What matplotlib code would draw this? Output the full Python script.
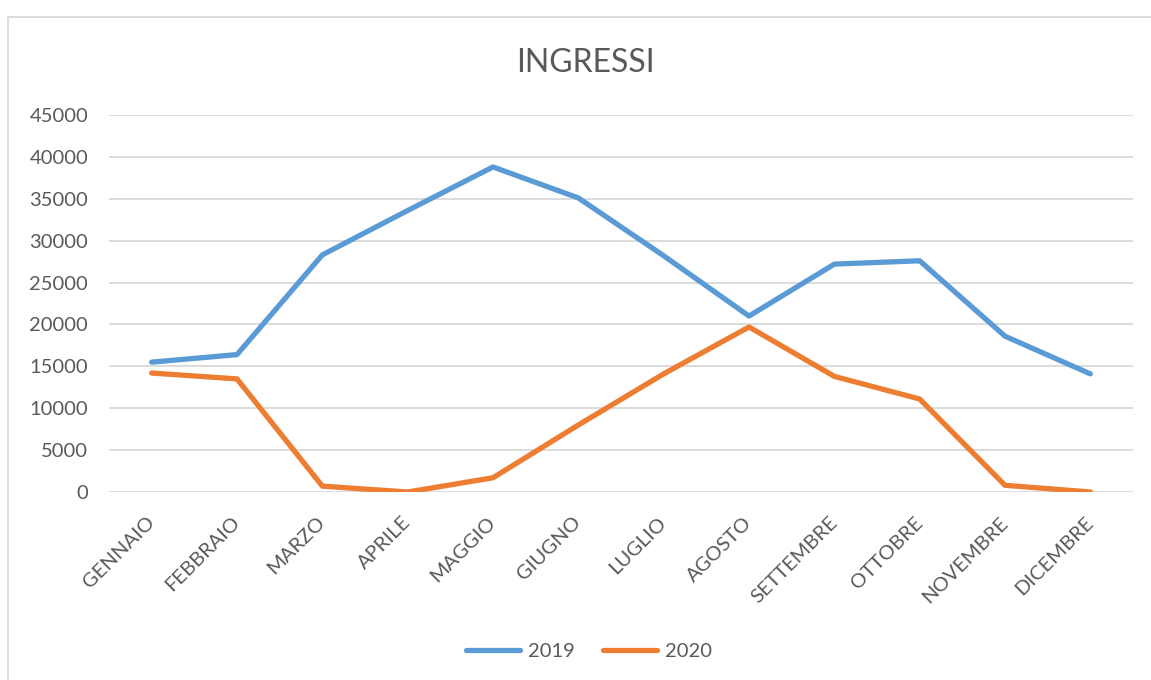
import numpy as np
import matplotlib
matplotlib.use("Agg")
import matplotlib.pyplot as plt
from matplotlib.patches import Rectangle

matplotlib.rcParams['font.family'] = ['Lato', 'DejaVu Sans']

mesi = ["GENNAIO", "FEBBRAIO", "MARZO", "APRILE", "MAGGIO", "GIUGNO",
        "LUGLIO", "AGOSTO", "SETTEMBRE", "OTTOBRE", "NOVEMBRE", "DICEMBRE"]
ingressi_2019 = [15500, 16400, 28300, 33600, 38800, 35100,
                 28200, 21000, 27200, 27600, 18600, 14100]
ingressi_2020 = [14200, 13500, 700, 0, 1700, 8000,
                 14100, 19700, 13800, 11100, 800, 0]

testo = "#595959"
griglia = "#D9D9D9"

fig = plt.figure(figsize=(11.51, 6.80), dpi=100)
ax = fig.add_axes([109/1151, 1 - 492/680, (1133-109)/1151, (492-115)/680])

x = np.arange(len(mesi))
ax.plot(x, ingressi_2019, color="#5B9BD5", lw=3.8, label="2019",
        solid_capstyle="round", solid_joinstyle="round", zorder=3)
ax.plot(x, ingressi_2020, color="#ED7D31", lw=3.8, label="2020",
        solid_capstyle="round", solid_joinstyle="round", zorder=3)

ax.set_xlim(-0.5, len(mesi) - 0.5)
ax.set_ylim(0, 45000)
ax.set_yticks(np.arange(0, 45001, 5000))
ax.grid(axis="y", color=griglia, lw=1.3)
ax.set_axisbelow(True)
for s in ax.spines.values():
    s.set_visible(False)

ax.tick_params(axis="y", length=0, pad=15, labelsize=14.5, labelcolor=testo)
ax.tick_params(axis="x", length=0, pad=20, labelsize=14.5, labelcolor=testo)
ax.set_xticks(x)
ax.set_xticklabels(mesi, rotation=45, ha="right", va="center",
                   rotation_mode="anchor")

fig.text(585/1151, 1 - 63/680, "INGRESSI", ha="center", va="center",
         fontsize=23, color=testo)

leg = fig.legend(loc="center", bbox_to_anchor=(589/1151, 1 - 651/680), ncol=2,
                 frameon=False, fontsize=14.5, handlelength=2.7,
                 columnspacing=1.4, handletextpad=0.4)
for t in leg.get_texts():
    t.set_color(testo)

# bordo del riquadro del grafico
fig.patches.append(Rectangle((8/1151, -0.1), 1.2, 1.1 - 17/680,
                             transform=fig.transFigure, fill=False,
                             edgecolor=griglia, lw=1.3))

fig.savefig("out.png", dpi=100)
